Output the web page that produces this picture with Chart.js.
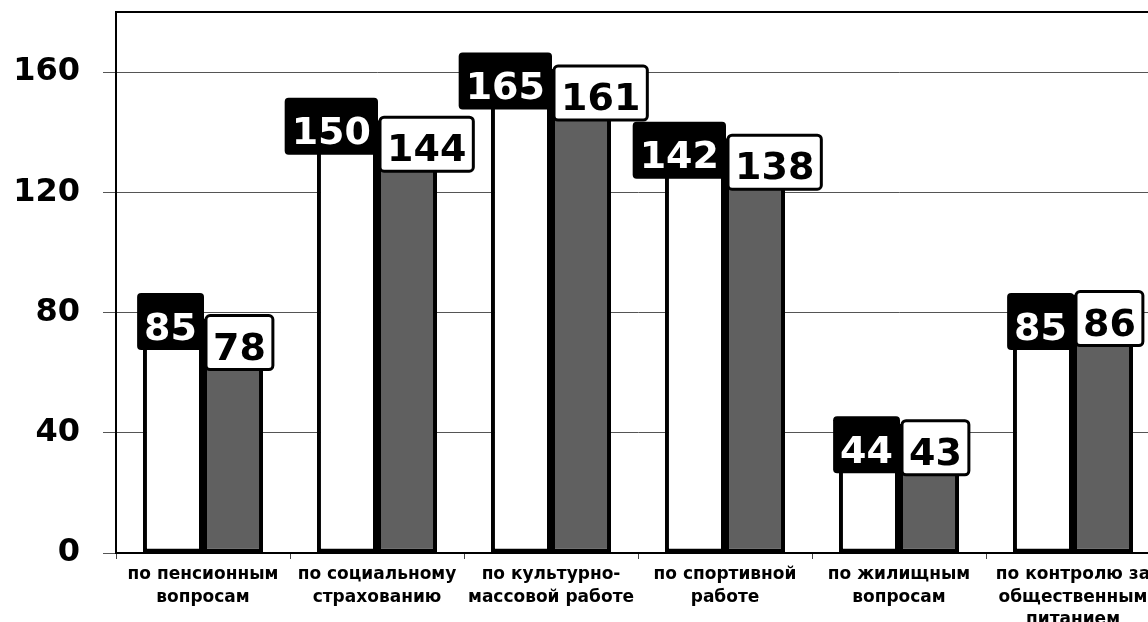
<!DOCTYPE html>
<html>
<head>
<meta charset="utf-8">
<script src="https://cdn.jsdelivr.net/npm/chart.js@4/dist/chart.umd.min.js"></script>
<style>
    html, body { margin: 0; padding: 0; background: #fff; overflow: hidden; }
    #wrap { position: relative; width: 1172px; height: 622px; }
</style>
</head>
<body>
<div id="wrap"><canvas id="chart"></canvas></div>
<script>
const categories = [
    ["по пенсионным", "вопросам"],
    ["по социальному", "страхованию"],
    ["по культурно-", "массовой работе"],
    ["по спортивной", "работе"],
    ["по жилищным", "вопросам"],
    ["по контролю за", "общественным", "питанием"],
];
const seriesA = [85, 150, 165, 142, 44, 85];
const seriesB = [78, 144, 161, 138, 43, 86];
const yTicks = [0, 40, 80, 120, 160];

(function () {
    "use strict";

    const FONT = "'DejaVu Sans', Verdana, sans-serif";

    // Boxed value labels sitting over the bar tops
    const boxLabels = {
        id: "boxLabels",
        afterDatasetsDraw(chart) {
            const ctx = chart.ctx;
            ctx.save();
            ctx.font = "bold 38px " + FONT;
            ctx.textAlign = "center";
            ctx.textBaseline = "alphabetic";
            chart.data.datasets.forEach((ds, di) => {
                const meta = chart.getDatasetMeta(di);
                meta.data.forEach((bar, i) => {
                    const txt = String(ds.data[i]);
                    const w = ctx.measureText(txt).width + 14;
                    const h = di === 0 ? 57 : 54;
                    const cy = bar.y + 24;
                    let left;
                    if (di === 0) {
                        left = bar.x + bar.width / 2 + 1 - w;
                    } else {
                        left = bar.x - bar.width / 2 + 3;
                    }
                    const top = cy - h / 2;
                    ctx.beginPath();
                    ctx.roundRect(left, top, w, h, 4);
                    if (di === 0) {
                        ctx.fillStyle = "#000";
                        ctx.fill();
                        ctx.fillStyle = "#fff";
                    } else {
                        ctx.fillStyle = "#fff";
                        ctx.fill();
                        ctx.lineWidth = 3;
                        ctx.strokeStyle = "#000";
                        ctx.stroke();
                        ctx.fillStyle = "#000";
                    }
                    ctx.fillText(txt, left + w / 2, cy + (di === 0 ? 18 : 17));
                });
            });
            ctx.restore();
        },
    };

    // Top frame line of the plot area
    const frame = {
        id: "frame",
        beforeDatasetsDraw(chart) {
            const { ctx, chartArea } = chart;
            ctx.save();
            ctx.strokeStyle = "#000";
            ctx.lineWidth = 2;
            ctx.beginPath();
            ctx.moveTo(chartArea.left, chartArea.top);
            ctx.lineTo(chartArea.right, chartArea.top);
            ctx.lineTo(chartArea.right, chartArea.bottom);
            ctx.stroke();
            ctx.restore();
        },
    };

    const ctx = document.getElementById("chart").getContext("2d");
    new Chart(ctx, {
        type: "bar",
        data: {
            labels: categories,
            datasets: [
                {
                    data: seriesA,
                    backgroundColor: "#ffffff",
                    borderColor: "#000000",
                    borderWidth: 4,
                    borderSkipped: false,
                },
                {
                    data: seriesB,
                    backgroundColor: "#606060",
                    borderColor: "#000000",
                    borderWidth: 4,
                    borderSkipped: false,
                },
            ],
        },
        options: {
            responsive: true,
            maintainAspectRatio: false,
            animation: false,
            categoryPercentage: 0.69,
            barPercentage: 1,
            layout: {
                padding: { top: 12, right: 12, left: 0, bottom: 0 },
            },
            plugins: {
                legend: { display: false },
                tooltip: { enabled: false },
            },
            scales: {
                x: {
                    grid: {
                        display: true,
                        drawOnChartArea: false,
                        tickLength: 6,
                        color: "#444",
                    },
                    border: { display: true, color: "#000", width: 2 },
                    ticks: {
                        color: "#000",
                        font: { family: FONT, size: 17, weight: "bold", lineHeight: 1.3 },
                        maxRotation: 0,
                        autoSkip: false,
                        padding: 5,
                    },
                    afterFit(scale) {
                        scale.height = 69;
                        scale.paddingLeft = 0;
                        scale.paddingRight = 0;
                    },
                },
                y: {
                    min: 0,
                    max: 180,
                    afterBuildTicks(scale) {
                        scale.ticks = yTicks.map((v) => ({ value: v }));
                    },
                    grid: {
                        color: "#555",
                        lineWidth: 1,
                        tickLength: 13,
                    },
                    border: { display: true, color: "#000", width: 2 },
                    ticks: {
                        color: "#000",
                        font: { family: FONT, size: 32, weight: "bold" },
                        padding: 23,
                    },
                    afterFit(scale) {
                        scale.width = 116;
                        scale.paddingTop = 0;
                        scale.paddingBottom = 0;
                    },
                },
            },
        },
        plugins: [frame, boxLabels],
    });
})();
</script>
</body>
</html>
